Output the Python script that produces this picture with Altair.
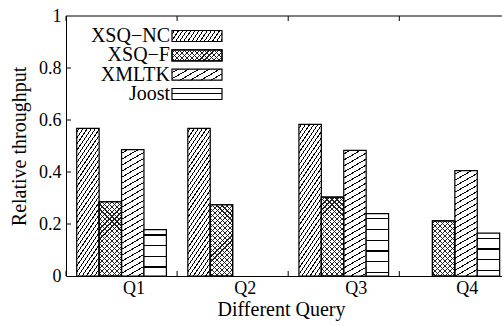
import math
import altair as alt
import pandas as pd

# ---------------- data ----------------
queries = ["Q1", "Q2", "Q3", "Q4"]
series = ["XSQ−NC", "XSQ−F", "XMLTK", "Joost"]
xsq_nc = [0.568, 0.568, 0.583, None]
xsq_f = [0.286, 0.274, 0.303, 0.212]
xmltk = [0.486, None, 0.483, 0.405]
joost = [0.178, None, 0.240, 0.165]
y_tick_values = [0, 0.2, 0.4, 0.6, 0.8, 1]

rows = []
for name, vals in zip(series, [xsq_nc, xsq_f, xmltk, joost]):
    for q, v in zip(queries, vals):
        if v is not None:
            rows.append({"query": q, "series": name, "value": v})
df = pd.DataFrame(rows)

# ---------------- layout ----------------
FONT = "Liberation Serif"
W = 436            # visible plot width (plot continues past the window edge)
H = 260
STEP = 111.1
X_RANGE = 4 * STEP
OFF_PAD = 0.478
BAR_W = STEP / (4 + 2 * OFF_PAD)
LEG_W, LEG_H = 50, 11


# ---------------- hatch patterns (linear gradients with hard stops) ----------------
def stop_list(L, spacing, lw, ink, paper, phase):
    parts = [f"{{offset:0,color:'{paper}'}}"]
    pos = phase
    while pos < L:
        o1 = pos / L
        o2 = min((pos + lw) / L, 1.0)
        parts.append(f"{{offset:{o1:.5f},color:'{paper}'}}")
        parts.append(f"{{offset:{o1:.5f},color:'{ink}'}}")
        parts.append(f"{{offset:{o2:.5f},color:'{ink}'}}")
        parts.append(f"{{offset:{o2:.5f},color:'{paper}'}}")
        pos += spacing
    parts.append(f"{{offset:1,color:'{paper}'}}")
    return "[" + ",".join(parts) + "]"


def hatch(theta, spacing, lw, w, h_expr, h_max, ink="#000", paper="#fff", phase=None):
    th = math.radians(theta)
    s, c = math.sin(th), math.cos(th)
    L = w * abs(s) + h_max * abs(c)
    x1 = 0 if s >= 0 else 1
    y1 = 0 if c >= 0 else 1
    a = f"({w * s / L:.6f})"
    b = f"(({h_expr})*({c / L:.6f}))"
    d = f"({a}*{a}+{b}*{b})"
    if phase is None:
        phase = spacing / 2
    stops = stop_list(L, spacing, lw, ink, paper, phase)
    return (f"{{gradient:'linear',x1:{x1},y1:{y1},"
            f"x2:{x1}+{a}/{d},y2:{y1}+{b}/{d},stops:{stops}}}")


def pattern_expr(w, h_expr, h_max):
    g_nc = hatch(56, 3.4, 0.9, w, h_expr, h_max)
    g_f = hatch(45, 3.5, 0.8, w, h_expr, h_max, ink="#222")
    g_x = hatch(30, 5.2, 1.0, w, h_expr, h_max)
    g_j = hatch(0, 10.7, 1.4, w, h_expr, h_max, phase=4.5)
    return (f"datum.series==='{series[0]}' ? {g_nc} : "
            f"datum.series==='{series[1]}' ? {g_f} : "
            f"datum.series==='{series[2]}' ? {g_x} : {g_j}")


def cross_expr(w, h_expr, h_max):
    return hatch(135, 3.5, 0.8, w, h_expr, h_max, ink="#222", paper="rgba(0,0,0,0)")


bar_h = f"datum.value*{H}"

x_enc = alt.X(
    "query:N", sort=queries,
    scale=alt.Scale(domain=queries, range=[0, X_RANGE], paddingInner=0, paddingOuter=0),
    axis=alt.Axis(
        title="Different Query", labelFont=FONT, labelFontSize=18, labelColor="black",
        labelAngle=0, labelOffset=12.5, labelPadding=3, ticks=False,
        domain=True, domainColor="black", domainWidth=1,
        titleFont=FONT, titleFontSize=20, titleFontWeight="normal", titleColor="black",
        titleBaseline="top", titleY=23, titleX=215, grid=False,
    ),
)
xoff_enc = alt.XOffset(
    "series:N", sort=series,
    scale=alt.Scale(domain=series, paddingInner=0, paddingOuter=OFF_PAD),
)
y_enc = alt.Y(
    "value:Q",
    scale=alt.Scale(domain=[0, 1], nice=False),
    axis=alt.Axis(
        title="Relative throughput", values=y_tick_values, format="~g",
        labelFont=FONT, labelFontSize=18, labelColor="black", labelPadding=5,
        ticks=False, domain=True, domainColor="black", domainWidth=1, grid=False,
        titleFont=FONT, titleFontSize=20, titleFontWeight="normal", titleColor="black",
        titleX=-37, titleY=H / 2,
    ),
)

bars = alt.Chart(df).transform_calculate(
    grad=pattern_expr(BAR_W, bar_h, H)
).mark_bar(stroke="black", strokeWidth=1.2).encode(
    x=x_enc, xOffset=xoff_enc, y=y_enc,
    fill=alt.Fill("grad:N", scale=None, legend=None),
)

cross = alt.Chart(df).transform_filter(
    alt.datum.series == series[1]
).transform_calculate(
    grad=cross_expr(BAR_W, bar_h, H)
).mark_bar(stroke="black", strokeWidth=1.2).encode(
    x=alt.X("query:N", sort=queries), xOffset=alt.XOffset("series:N", sort=series),
    y=alt.Y("value:Q", scale=alt.Scale(domain=[0, 1], nice=False), axis=None),
    fill=alt.Fill("grad:N", scale=None, legend=None),
)

# inward ticks
qdf = pd.DataFrame({"query": queries})
xt_bottom = alt.Chart(qdf).mark_rule(color="black", strokeWidth=1).encode(
    x=alt.X("query:N", sort=queries, bandPosition=0),
    y=alt.value(H), y2=alt.value(H - 5),
)
xt_top = alt.Chart(qdf).mark_rule(color="black", strokeWidth=1).encode(
    x=alt.X("query:N", sort=queries, bandPosition=0),
    y=alt.value(0), y2=alt.value(5),
)
ydf = pd.DataFrame({"v": y_tick_values[1:-1]})
yt = alt.Chart(ydf).mark_rule(color="black", strokeWidth=1).encode(
    y=alt.Y("v:Q", scale=alt.Scale(domain=[0, 1], nice=False), axis=None),
    x=alt.value(0), x2=alt.value(5),
)
top_border = alt.Chart(pd.DataFrame({"a": [0]})).mark_rule(color="black", strokeWidth=1).encode(
    x=alt.value(0), x2=alt.value(W), y=alt.value(0),
)

# legend
ldf = pd.DataFrame({"series": series})
leg_scale = alt.Scale(type="point", domain=series, range=[20, 78], padding=0)
leg_text = alt.Chart(ldf).mark_text(
    align="right", baseline="alphabetic", dy=6, font=FONT, fontSize=20, color="black"
).encode(
    y=alt.Y("series:N", sort=series, scale=leg_scale, axis=None),
    x=alt.value(104),
    text="series:N",
)
leg_sw = alt.Chart(ldf).transform_calculate(
    grad=pattern_expr(LEG_W, str(LEG_H), LEG_H)
).mark_bar(size=LEG_H, orient="horizontal", stroke="black", strokeWidth=1.2).encode(
    y=alt.Y("series:N", sort=series, scale=leg_scale, axis=None),
    x=alt.value(106), x2=alt.value(106 + LEG_W),
    fill=alt.Fill("grad:N", scale=None, legend=None),
)
leg_cross = alt.Chart(ldf).transform_filter(
    alt.datum.series == series[1]
).transform_calculate(
    grad=cross_expr(LEG_W, str(LEG_H), LEG_H)
).mark_bar(size=LEG_H, orient="horizontal", stroke="black", strokeWidth=1.2).encode(
    y=alt.Y("series:N", sort=series, scale=leg_scale, axis=None),
    x=alt.value(106), x2=alt.value(106 + LEG_W),
    fill=alt.Fill("grad:N", scale=None, legend=None),
)

chart = alt.layer(
    bars, cross, xt_bottom, xt_top, yt, top_border, leg_text, leg_sw, leg_cross
).resolve_scale(y="independent").properties(
    width=W, height=H,
    autosize=alt.AutoSizeParams(type="none"),
    padding={"left": 66, "top": 16, "right": 0, "bottom": 50},
    background="white",
).configure(font=FONT).configure_view(stroke=None)

chart.save("out.html", embed_options={"renderer": "svg", "actions": False})
